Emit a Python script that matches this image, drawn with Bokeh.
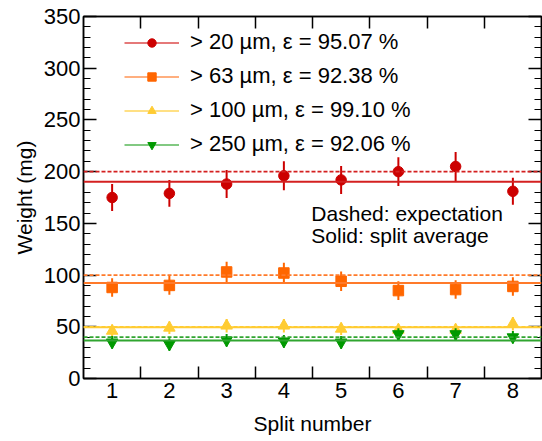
from bokeh.plotting import figure
from bokeh.models import (Range1d, FixedTicker, LinearAxis,
                          Span, Legend, LegendItem, Label)
from bokeh.embed import file_html
from bokeh.resources import INLINE

# ---------------- data ----------------
splits = [1, 2, 3, 4, 5, 6, 7, 8]
sizes = [20, 63, 100, 250]
efficiency = [95.07, 92.38, 99.10, 92.06]
expected = [200, 100, 50, 40]
split_average = [190.14, 92.38, 49.55, 36.82]

w20 = [175, 179, 188, 196, 192, 200, 205, 181]
e20 = [13, 13, 13.5, 14, 13.5, 14, 14, 13]
w63 = [88, 90, 103, 102, 94, 85, 86, 89]
e63 = [9, 9, 10, 10, 9.5, 9, 9, 9]
w100 = [46, 49, 51, 51, 48, 47, 47, 53]
e100 = [6, 6, 6.5, 6.5, 6, 6, 6, 6.5]
w250 = [35, 33, 37, 36, 35, 43, 43, 40]
e250 = [6, 6, 6, 6, 6, 6.5, 6.5, 6]

y_major = [0, 50, 100, 150, 200, 250, 300, 350]
y_minor = list(range(0, 351, 10))

series_w = [w20, w63, w100, w250]
series_e = [e20, e63, e100, e250]
colors = ["#CC0000", "#FF6600", "#FFCC33", "#009900"]
line_colors = ["#D42020", "#FF7A2A", "#FFCC33", "#30A530"]
markers = ["circle", "square", "triangle", "inverted_triangle"]
marker_sizes = [10.5, 10.5, 11.5, 11.5]

notes = ["Dashed: expectation", "Solid: split average"]

FONT = "Liberation Sans"

p = figure(width=542, height=441, output_backend="svg", toolbar_location=None,
           x_range=Range1d(0.5, 8.5), y_range=Range1d(0, 350),
           min_border_left=83, min_border_right=1, min_border_top=16,
           min_border_bottom=63)
p.xgrid.visible = False
p.ygrid.visible = False
p.outline_line_color = "black"
p.outline_line_width = 1.5
p.background_fill_color = "white"
p.border_fill_color = "white"

minor_x = [s + 0.5 for s in splits[:-1]]

def style_x(ax, labels=True):
    ax.ticker = FixedTicker(ticks=splits, minor_ticks=minor_x)
    ax.major_tick_in = 0
    ax.major_tick_out = 0
    ax.minor_tick_in = 12
    ax.minor_tick_out = 0
    ax.minor_tick_line_color = "black"
    ax.minor_tick_line_width = 1.5
    ax.axis_line_color = "black"
    ax.axis_line_width = 1.5
    ax.major_label_text_font = FONT
    ax.major_label_text_font_size = "22px"
    ax.major_label_text_color = "black"
    if labels:
        ax.major_label_standoff = 4
    else:
        ax.major_label_overrides = {t: "" for t in splits}
        ax.major_label_standoff = 0

def style_y(ax, labels=True):
    ax.ticker = FixedTicker(ticks=y_major, minor_ticks=y_minor)
    ax.major_tick_in = 13
    ax.major_tick_out = 0
    ax.minor_tick_in = 7
    ax.minor_tick_out = 0
    ax.major_tick_line_color = "black"
    ax.minor_tick_line_color = "black"
    ax.major_tick_line_width = 1.5
    ax.minor_tick_line_width = 1.2
    ax.axis_line_color = "black"
    ax.axis_line_width = 1.5
    ax.major_label_text_font = FONT
    ax.major_label_text_font_size = "22px"
    ax.major_label_text_color = "black"
    if labels:
        ax.major_label_standoff = 3
    else:
        ax.major_label_overrides = {t: "" for t in y_major}
        ax.major_label_standoff = 0

style_x(p.xaxis[0])
style_y(p.yaxis[0])
p.xaxis.axis_label = "Split number"
p.yaxis.axis_label = "Weight (mg)"
for ax in (p.xaxis[0], p.yaxis[0]):
    ax.axis_label_text_font = FONT
    ax.axis_label_text_font_size = "21px"
    ax.axis_label_text_font_style = "normal"
    ax.axis_label_text_color = "black"
p.xaxis[0].axis_label_standoff = 11
p.yaxis[0].axis_label_standoff = 5

top = LinearAxis()
style_x(top, labels=False)
p.add_layout(top, "above")
right = LinearAxis()
style_y(right, labels=False)
p.add_layout(right, "right")

items = []
for i in range(4):
    w = series_w[i]
    e = series_e[i]
    lo = [a - b for a, b in zip(w, e)]
    hi = [a + b for a, b in zip(w, e)]
    p.segment(x0=splits, y0=lo, x1=splits, y1=hi, line_color=colors[i], line_width=2)
    sc = p.scatter(x=splits, y=w, marker=markers[i], size=marker_sizes[i],
                   fill_color=colors[i], line_color=colors[i])
    p.add_layout(Span(location=split_average[i], dimension="width",
                      line_color=line_colors[i], line_width=2))
    p.add_layout(Span(location=expected[i], dimension="width",
                      line_color=line_colors[i], line_width=1.8, line_dash="4 2"))
    dummy = p.line(x=[float("nan")], y=[float("nan")], line_color=line_colors[i],
                   line_width=1.5, line_alpha=0.8)
    label = f"> {sizes[i]} µm, ε = {efficiency[i]:.2f} %"
    items.append(LegendItem(label=label, renderers=[dummy, sc], index=0))

legend = Legend(items=items, location=(41, 221), padding=0, margin=0, spacing=8,
                glyph_width=55, glyph_height=21, label_height=21, label_standoff=11,
                label_text_font=FONT, label_text_font_size="22px",
                label_text_color="black", border_line_color=None,
                background_fill_alpha=0)
p.add_layout(legend, "center")

p.add_layout(Label(x=4.48, y=159.5, text=notes[0], text_font=FONT,
                   text_font_size="21px", text_color="black", text_baseline="alphabetic"))
p.add_layout(Label(x=4.48, y=138.4, text=notes[1], text_font=FONT,
                   text_font_size="21px", text_color="black", text_baseline="alphabetic"))

open("out.html", "w").write(file_html(p, INLINE))
